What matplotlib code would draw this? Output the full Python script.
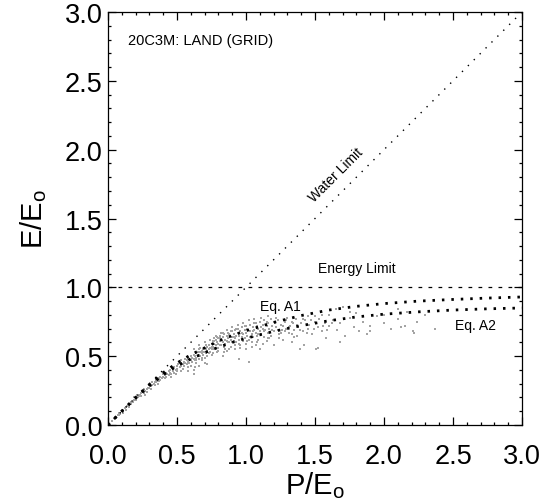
import matplotlib
matplotlib.use("Agg")
import matplotlib.pyplot as plt

plt.rcParams['font.family'] = ['Liberation Sans', 'DejaVu Sans']
plt.rcParams['mathtext.fontset'] = 'custom'
plt.rcParams['mathtext.rm'] = 'Liberation Sans'

# ---- data ----
title_text = "20C3M: LAND (GRID)"
ticks = [0.0, 0.5, 1.0, 1.5, 2.0, 2.5, 3.0]
tick_labels = ["0.0", "0.5", "1.0", "1.5", "2.0", "2.5", "3.0"]

water_x = [0.0, 3.0]
water_y = [0.0, 3.0]
energy_x = [0.0, 3.0]
energy_y = [1.0, 1.0]

a1_x = [0.0, 0.1, 0.2, 0.3, 0.4, 0.5, 0.6, 0.7, 0.8, 0.9, 1.0, 1.2, 1.4, 1.6, 1.8, 2.0, 2.25, 2.5, 2.75, 3.0]
a1_y = [0.0, 0.1, 0.2, 0.295, 0.38, 0.45, 0.51, 0.56, 0.61, 0.65, 0.685, 0.745, 0.795, 0.835, 0.862, 0.882, 0.9, 0.912, 0.922, 0.93]
a2_x = [0.0, 0.1, 0.2, 0.3, 0.4, 0.5, 0.6, 0.7, 0.8, 0.9, 1.0, 1.2, 1.4, 1.6, 1.8, 2.0, 2.25, 2.5, 2.75, 3.0]
a2_y = [0.0, 0.1, 0.195, 0.285, 0.365, 0.43, 0.48, 0.525, 0.565, 0.6, 0.63, 0.68, 0.722, 0.757, 0.785, 0.805, 0.822, 0.835, 0.844, 0.85]

cloud_pts = [
    (0.03,0.03),(0.04,0.05),(0.05,0.04),(0.06,0.06),(0.07,0.07),(0.08,0.07),(0.08,0.09),(0.09,0.08),
    (0.10,0.10),(0.11,0.09),(0.11,0.11),(0.12,0.12),(0.13,0.11),(0.13,0.13),(0.14,0.14),(0.15,0.13),
    (0.15,0.15),(0.16,0.15),(0.17,0.17),(0.17,0.15),(0.18,0.17),(0.19,0.18),(0.19,0.20),(0.20,0.18),
    (0.21,0.20),(0.21,0.22),(0.22,0.20),(0.23,0.22),(0.23,0.21),(0.24,0.23),(0.24,0.21),(0.25,0.24),
    (0.26,0.23),(0.26,0.25),(0.27,0.25),(0.28,0.26),(0.28,0.24),(0.29,0.27),(0.30,0.27),(0.30,0.29),
    (0.31,0.28),(0.32,0.29),(0.32,0.31),(0.33,0.30),(0.34,0.31),(0.34,0.29),(0.35,0.33),(0.35,0.31),
    (0.36,0.32),(0.37,0.34),(0.37,0.32),(0.38,0.35),(0.38,0.33),(0.39,0.34),(0.40,0.37),(0.40,0.35),
    (0.41,0.36),(0.42,0.38),(0.42,0.35),(0.43,0.37),(0.44,0.39),(0.44,0.36),(0.45,0.40),(0.45,0.38),
    (0.46,0.37),(0.47,0.41),(0.47,0.39),(0.48,0.42),(0.48,0.38),(0.49,0.40),(0.50,0.43),(0.50,0.41),
    (0.50,0.39),(0.27,0.22),(0.31,0.26),(0.36,0.30),(0.41,0.34),(0.46,0.35),(0.49,0.37),(0.53,0.39),
    (0.51,0.44),(0.52,0.42),(0.52,0.45),(0.53,0.43),(0.53,0.47),(0.54,0.44),(0.54,0.41),(0.55,0.46),
    (0.55,0.43),(0.56,0.48),(0.56,0.45),(0.57,0.44),(0.57,0.47),(0.58,0.49),(0.58,0.46),(0.58,0.42),
    (0.59,0.45),(0.59,0.48),(0.60,0.50),(0.60,0.47),(0.60,0.43),(0.61,0.46),(0.61,0.49),(0.62,0.51),
    (0.62,0.48),(0.62,0.40),(0.63,0.47),(0.63,0.50),(0.64,0.52),(0.64,0.49),(0.64,0.45),(0.65,0.50),
    (0.65,0.53),(0.66,0.51),(0.66,0.48),(0.66,0.55),(0.67,0.53),(0.67,0.50),(0.68,0.54),(0.68,0.52),
    (0.68,0.47),(0.69,0.55),(0.69,0.51),(0.70,0.56),(0.70,0.53),(0.70,0.49),(0.71,0.55),(0.71,0.52),
    (0.72,0.57),(0.72,0.54),(0.72,0.44),(0.73,0.55),(0.73,0.58),(0.74,0.53),(0.74,0.56),(0.75,0.59),
    (0.75,0.55),(0.75,0.51),(0.58,0.39),(0.63,0.42),(0.66,0.43),(0.70,0.45),(0.62,0.37),
    (0.76,0.57),(0.76,0.61),(0.77,0.59),(0.77,0.55),(0.78,0.62),(0.78,0.58),(0.79,0.60),(0.79,0.56),
    (0.80,0.63),(0.80,0.59),(0.80,0.54),(0.81,0.61),(0.81,0.65),(0.82,0.58),(0.82,0.62),(0.83,0.64),
    (0.83,0.60),(0.83,0.50),(0.84,0.66),(0.84,0.57),(0.85,0.62),(0.85,0.59),(0.86,0.65),(0.86,0.61),
    (0.86,0.54),(0.87,0.67),(0.87,0.63),(0.88,0.60),(0.88,0.66),(0.89,0.62),(0.89,0.57),(0.90,0.68),
    (0.90,0.64),(0.90,0.60),(0.91,0.66),(0.91,0.61),(0.92,0.69),(0.92,0.63),(0.92,0.55),(0.93,0.65),
    (0.93,0.60),(0.94,0.70),(0.94,0.67),(0.95,0.62),(0.95,0.65),(0.95,0.48),(0.96,0.68),(0.96,0.58),
    (0.97,0.71),(0.97,0.64),(0.98,0.66),(0.98,0.61),(0.99,0.69),(0.99,0.63),(1.00,0.72),(1.00,0.67),
    (1.00,0.59),(1.01,0.65),(1.01,0.70),(1.02,0.62),(1.02,0.46),(1.03,0.68),(1.03,0.73),(1.04,0.66),
    (1.04,0.60),(1.05,0.71),(1.05,0.64),(1.06,0.69),(1.06,0.74),(1.07,0.67),(1.07,0.58),(1.08,0.72),
    (1.08,0.65),(1.09,0.70),(1.09,0.62),(1.10,0.75),(1.10,0.68),(1.10,0.55),(1.11,0.66),(1.12,0.73),
    (1.12,0.70),(1.13,0.64),(1.13,0.76),(1.14,0.69),(1.15,0.72),(1.15,0.61),(1.16,0.67),(1.16,0.74),
    (1.17,0.70),(1.18,0.77),(1.18,0.65),(1.19,0.72),(1.20,0.68),(1.20,0.75),(1.20,0.58),
    (1.22,0.71),(1.23,0.76),(1.24,0.66),(1.25,0.73),(1.26,0.69),(1.27,0.62),(1.28,0.75),(1.29,0.70),
    (1.30,0.78),(1.31,0.67),(1.32,0.72),(1.33,0.60),(1.34,0.74),(1.35,0.69),(1.36,0.77),(1.37,0.65),
    (1.38,0.71),(1.40,0.74),(1.41,0.68),(1.42,0.58),(1.43,0.76),(1.45,0.70),(1.46,0.73),(1.48,0.66),
    (1.50,0.75),(1.52,0.56),(1.52,0.71),(1.55,0.68),(1.57,0.74),(1.58,0.63),(1.60,0.72),
    (1.45,0.79),(1.50,0.79),(1.55,0.80),(1.60,0.80),(1.65,0.84),(1.70,0.86),(1.75,0.82),(1.80,0.81),
    (1.63,0.76),(1.66,0.69),(1.68,0.74),(1.72,0.65),(1.75,0.78),(1.78,0.71),(1.82,0.68),(1.85,0.75),
    (1.88,0.66),(1.90,0.72),(1.95,0.79),(2.00,0.74),(2.05,0.70),(2.10,0.77),(2.15,0.72),(2.22,0.67),
    (2.24,0.75),(2.30,0.80),(2.37,0.70),(2.00,0.80),(2.10,0.84),(2.17,0.82),(1.39,0.55),(1.51,0.55),
    (1.68,0.60),(1.90,0.685),(2.12,0.71),(2.21,0.68),
    (0.62,0.55),(0.66,0.58),(0.70,0.60),(0.74,0.62),(0.78,0.65),(0.82,0.67),(0.86,0.69),(0.90,0.71),
    (0.94,0.73),(0.98,0.74),(1.02,0.76),(1.06,0.77),(1.11,0.78),(1.16,0.79),(1.22,0.78),(1.28,0.68),
    (0.64,0.47),(0.68,0.49),(0.72,0.50),(0.76,0.52),(0.80,0.56),(0.84,0.53),(0.88,0.55),(0.92,0.58),
    (0.96,0.56),(1.00,0.55),(1.04,0.57),(1.08,0.60),(1.12,0.59),(1.16,0.63),(1.24,0.63),(1.33,0.66),
    (0.77,0.63),(0.79,0.64),(0.81,0.58),(0.83,0.67),(0.85,0.55),(0.87,0.60),(0.89,0.68),(0.91,0.64),
    (0.93,0.70),(0.95,0.59),(0.97,0.67),(0.99,0.72),(1.01,0.61),(1.03,0.64),(1.05,0.68),(1.07,0.74),
    (1.09,0.66),(1.11,0.71),(1.13,0.68),(1.15,0.75),(1.17,0.63),(1.19,0.69),(1.21,0.74),(1.23,0.69),
    (1.25,0.67),(1.27,0.72),(1.29,0.76),(1.31,0.71),(1.33,0.75),(1.35,0.64),(1.37,0.73),(1.39,0.69),
    (1.41,0.77),(1.44,0.67),(1.47,0.76),(1.49,0.70),(1.53,0.77),(1.56,0.72),(1.59,0.69),(1.62,0.74),
    (0.67,0.56),(0.69,0.53),(0.71,0.58),(0.73,0.52),(0.75,0.57),(0.77,0.61),(0.79,0.53),(0.81,0.63),
]
cloud_x = [p[0] for p in cloud_pts]
cloud_y = [p[1] for p in cloud_pts]

# ---- figure ----
fig = plt.figure(figsize=(5.49, 5.02), dpi=100)
ax = fig.add_axes([108/549, 1-426/502, (522-108)/549, (426-13)/502])

ax.plot(cloud_x, cloud_y, linestyle='none', marker='s', ms=2.1, mew=0,
        color='#a4a4a4', zorder=2)
ax.plot(water_x, water_y, color='black', lw=1.0, linestyle=(0, (1, 5)), zorder=3)
ax.plot(energy_x, energy_y, color='black', lw=0.9, linestyle=(0, (3, 5)), zorder=3)
ax.plot(a1_x, a1_y, color='black', lw=2.0, linestyle=(0, (0.9, 2.5)),
        dash_capstyle='butt', zorder=4)
ax.plot(a2_x, a2_y, color='black', lw=2.0, linestyle=(0, (0.9, 2.5)),
        dash_capstyle='butt', zorder=4)

ax.set_xlim(0, 3)
ax.set_ylim(0, 3)
ax.set_xticks(ticks)
ax.set_xticklabels(tick_labels)
ax.set_yticks(ticks)
ax.set_yticklabels(tick_labels)
ax.set_xticks([i/10 for i in range(31)], minor=True)
ax.set_yticks([i/10 for i in range(31)], minor=True)
ax.tick_params(which='both', direction='in', top=True, right=True, width=0.9)
ax.tick_params(which='major', length=5.5)
ax.tick_params(which='minor', length=2.5)
ax.tick_params(axis='x', which='major', labelsize=19.5, pad=13)
ax.tick_params(axis='y', which='major', labelsize=19.5, pad=4)
for s in ax.spines.values():
    s.set_linewidth(0.9)

ax.set_xlabel(r'P/E$_\mathregular{o}$', fontsize=21, labelpad=0)
ax.set_ylabel(r'E/E$_\mathregular{o}$', fontsize=21, labelpad=11)

ax.text(0.145, 2.80, title_text, fontsize=10.5, ha='left', va='center')
ax.text(1.655, 1.82, 'Water Limit', fontsize=10, rotation=45,
        ha='center', va='center', rotation_mode='anchor')
ax.text(1.80, 1.14, 'Energy Limit', fontsize=10, ha='center', va='center')
ax.text(1.25, 0.866, 'Eq. A1', fontsize=10, ha='center', va='center')
ax.text(2.66, 0.726, 'Eq. A2', fontsize=10, ha='center', va='center')

fig.savefig('out.png', dpi=100)
